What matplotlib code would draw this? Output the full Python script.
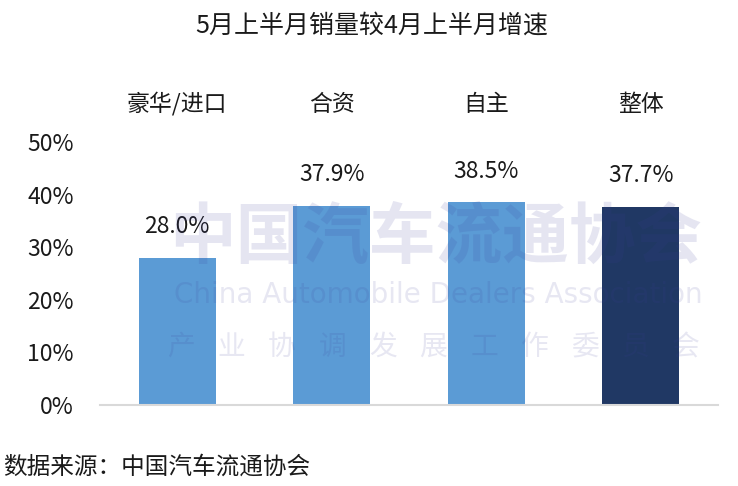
import matplotlib
matplotlib.use("Agg")
import matplotlib.pyplot as plt
import numpy as np
from matplotlib.ticker import FuncFormatter

plt.rcParams['font.family'] = ['Noto Sans CJK SC', 'DejaVu Sans']

title = "5月上半月销量较4月上半月增速"
categories = ["豪华/进口", "合资", "自主", "整体"]
values = [28.0, 37.9, 38.5, 37.7]
colors = ["#5B9BD5", "#5B9BD5", "#5B9BD5", "#203864"]
yticks = [0, 10, 20, 30, 40, 50]
source = "数据来源：中国汽车流通协会"

fig = plt.figure(figsize=(7.38, 4.86), dpi=100)
ax = fig.add_axes([100/738, 1-405/486, 618/738, (405-142)/486])

x = list(range(len(categories)))
bars = ax.bar(x, values, width=0.5, color=colors, zorder=2)
ax.set_xlim(-0.5, len(categories) - 0.5)
ax.set_ylim(0, 50)
ax.set_yticks(yticks)
ax.yaxis.set_major_formatter(FuncFormatter(lambda v, p: f"{int(v)}%"))
ax.tick_params(axis='y', length=0, pad=19, labelsize=16.5, labelcolor='#1a1a1a')

ax.xaxis.tick_top()
ax.set_xticks(x)
ax.set_xticklabels(categories)
ax.tick_params(axis='x', length=0, pad=19, labelsize=16.5, labelcolor='#1a1a1a')

for s in ['top', 'left', 'right']:
    ax.spines[s].set_visible(False)
ax.spines['bottom'].set_color('#D9D9D9')
ax.spines['bottom'].set_linewidth(1.5)

for xi, v in zip(x, values):
    ax.annotate(f"{v:.1f}%", (xi, v), xytext=(0, 14), textcoords='offset points',
                ha='center', va='bottom', fontsize=16.5, color='#1a1a1a')

fig.text(372/738, 1-26/486, title, ha='center', va='center', fontsize=18, color='#1a1a1a')
fig.text(3/738, 1-467/486, source, ha='left', va='center', fontsize=17, color='#1a1a1a')

# watermark
wm_color = '#3C3C9A'
fig.text(436/738, 1-238/486, "中国汽车流通协会", ha='center', va='center', fontsize=48,
         fontweight='bold', color=wm_color, alpha=0.13, zorder=1)
fig.text(438/738, 1-295/486, "China Automobile Dealers Association", ha='center', va='center',
         fontsize=20, color=wm_color, alpha=0.12, zorder=1, family=['DejaVu Sans'])
wm_small = "产业协调发展工作委员会"
for cx, ch in zip(np.linspace(181/738, 686/738, len(wm_small)), wm_small):
    fig.text(cx, 1-347/486, ch, ha='center', va='center', fontsize=20,
             color=wm_color, alpha=0.12, zorder=1)

fig.savefig("out.png", dpi=100)
